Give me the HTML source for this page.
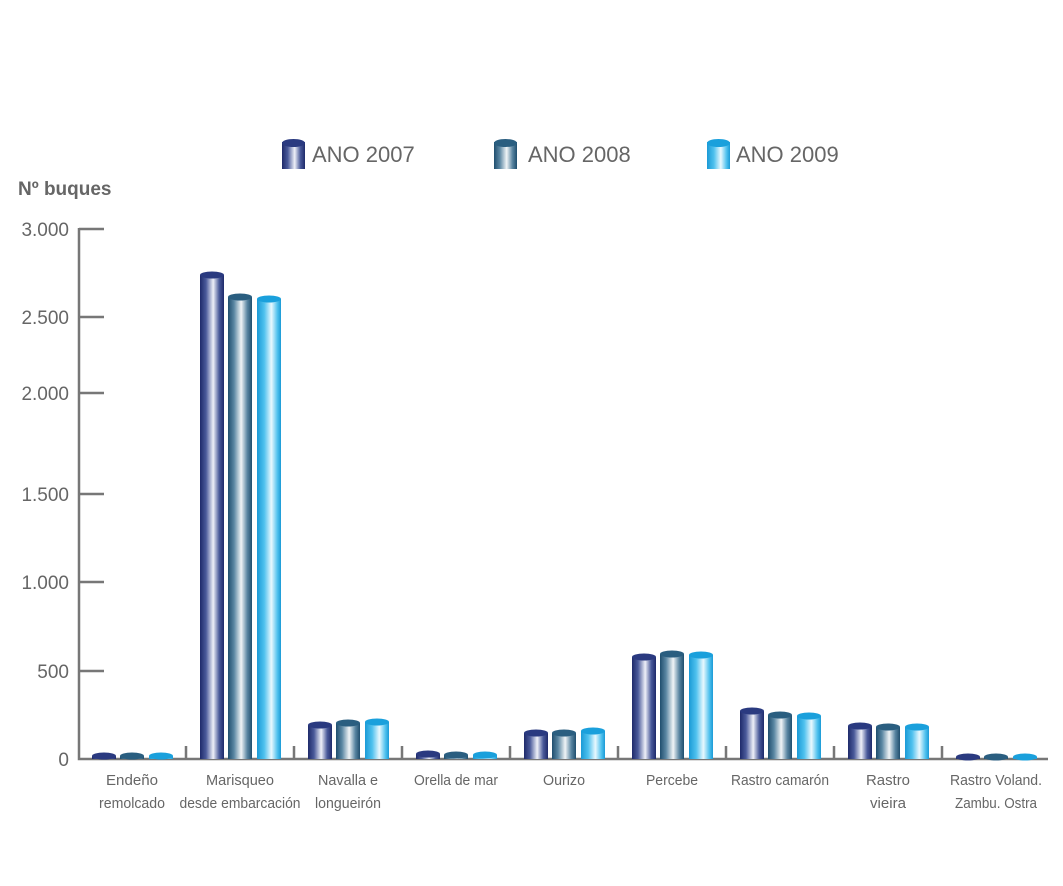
<!DOCTYPE html>
<html><head><meta charset="utf-8"><style>
html,body{margin:0;padding:0;background:#fff;}
svg{display:block;font-family:"Liberation Sans",sans-serif;}
</style></head><body>
<svg width="1063" height="886" viewBox="0 0 1063 886" xmlns="http://www.w3.org/2000/svg">
<defs>
<linearGradient id="g0" x1="0" x2="1" y1="0" y2="0">
<stop offset="0" stop-color="#1e2a6a"/><stop offset="0.25" stop-color="#4a5a9a"/><stop offset="0.55" stop-color="#eef0f8"/><stop offset="0.8" stop-color="#4a5a9a"/><stop offset="1" stop-color="#1e2a6a"/></linearGradient>
<linearGradient id="g1" x1="0" x2="1" y1="0" y2="0">
<stop offset="0" stop-color="#1f4e6e"/><stop offset="0.25" stop-color="#5a86a2"/><stop offset="0.55" stop-color="#f0f4f6"/><stop offset="0.8" stop-color="#5a86a2"/><stop offset="1" stop-color="#1f4e6e"/></linearGradient>
<linearGradient id="g2" x1="0" x2="1" y1="0" y2="0">
<stop offset="0" stop-color="#1a9ad6"/><stop offset="0.3" stop-color="#4fc1ee"/><stop offset="0.6" stop-color="#e8f8fe"/><stop offset="0.85" stop-color="#4fc1ee"/><stop offset="1" stop-color="#1a9ad6"/></linearGradient>
</defs>
<g fill="#666" font-size="22">
<rect x="282" y="142" width="23" height="27" fill="url(#g0)"/><ellipse cx="293.5" cy="143" rx="11.5" ry="4" fill="#2a3a80"/>
<text x="312" y="162">ANO 2007</text>
<rect x="494" y="142" width="23" height="27" fill="url(#g1)"/><ellipse cx="505.5" cy="143" rx="11.5" ry="4" fill="#2a5e80"/>
<text x="528" y="162">ANO 2008</text>
<rect x="707" y="142" width="23" height="27" fill="url(#g2)"/><ellipse cx="718.5" cy="143" rx="11.5" ry="4" fill="#1aa0dc"/>
<text x="736" y="162">ANO 2009</text>
</g>
<text x="18" y="195" font-size="19" font-weight="bold" fill="#666">Nº buques</text>
<g stroke="#777" stroke-width="2.5" fill="none">
<path d="M79 228V759H1048"/>
<path d="M79 229H104M79 317H104M79 393H104M79 494H104M79 582H104M79 671H104"/>
<path d="M186 759V746M294 759V746M402 759V746M510 759V746M618 759V746M726 759V746M834 759V746M942 759V746"/>
</g>
<g fill="#666" font-size="19" text-anchor="end">
<text x="69" y="236">3.000</text><text x="69" y="324">2.500</text><text x="69" y="400">2.000</text>
<text x="69" y="501">1.500</text><text x="69" y="589">1.000</text><text x="69" y="678">500</text><text x="69" y="766">0</text>
</g>
<g>
<!-- Endeño c=132 -->
<rect x="92" y="756" width="24" height="3" fill="url(#g0)"/><ellipse cx="104" cy="756" rx="12" ry="3.5" fill="#2a3a80"/>
<rect x="120" y="756" width="24" height="3" fill="url(#g1)"/><ellipse cx="132" cy="756" rx="12" ry="3.5" fill="#2a5e80"/>
<rect x="149" y="756" width="24" height="3" fill="url(#g2)"/><ellipse cx="161" cy="756" rx="12" ry="3.5" fill="#1aa0dc"/>
<!-- Marisqueo c=240 -->
<rect x="200" y="275" width="24" height="484" fill="url(#g0)"/><ellipse cx="212" cy="275" rx="12" ry="3.5" fill="#2a3a80"/>
<rect x="228" y="297" width="24" height="462" fill="url(#g1)"/><ellipse cx="240" cy="297" rx="12" ry="3.5" fill="#2a5e80"/>
<rect x="257" y="299" width="24" height="460" fill="url(#g2)"/><ellipse cx="269" cy="299" rx="12" ry="3.5" fill="#1aa0dc"/>
<!-- Navalla c=348 -->
<rect x="308" y="725" width="24" height="34" fill="url(#g0)"/><ellipse cx="320" cy="725" rx="12" ry="3.5" fill="#2a3a80"/>
<rect x="336" y="723" width="24" height="36" fill="url(#g1)"/><ellipse cx="348" cy="723" rx="12" ry="3.5" fill="#2a5e80"/>
<rect x="365" y="722" width="24" height="37" fill="url(#g2)"/><ellipse cx="377" cy="722" rx="12" ry="3.5" fill="#1aa0dc"/>
<!-- Orella c=456 -->
<rect x="416" y="754" width="24" height="5" fill="url(#g0)"/><ellipse cx="428" cy="754" rx="12" ry="3.5" fill="#2a3a80"/>
<rect x="444" y="755" width="24" height="4" fill="url(#g1)"/><ellipse cx="456" cy="755" rx="12" ry="3.5" fill="#2a5e80"/>
<rect x="473" y="755" width="24" height="4" fill="url(#g2)"/><ellipse cx="485" cy="755" rx="12" ry="3.5" fill="#1aa0dc"/>
<!-- Ourizo c=564 -->
<rect x="524" y="733" width="24" height="26" fill="url(#g0)"/><ellipse cx="536" cy="733" rx="12" ry="3.5" fill="#2a3a80"/>
<rect x="552" y="733" width="24" height="26" fill="url(#g1)"/><ellipse cx="564" cy="733" rx="12" ry="3.5" fill="#2a5e80"/>
<rect x="581" y="731" width="24" height="28" fill="url(#g2)"/><ellipse cx="593" cy="731" rx="12" ry="3.5" fill="#1aa0dc"/>
<!-- Percebe c=672 -->
<rect x="632" y="657" width="24" height="102" fill="url(#g0)"/><ellipse cx="644" cy="657" rx="12" ry="3.5" fill="#2a3a80"/>
<rect x="660" y="654" width="24" height="105" fill="url(#g1)"/><ellipse cx="672" cy="654" rx="12" ry="3.5" fill="#2a5e80"/>
<rect x="689" y="655" width="24" height="104" fill="url(#g2)"/><ellipse cx="701" cy="655" rx="12" ry="3.5" fill="#1aa0dc"/>
<!-- Rastro camarón c=780 -->
<rect x="740" y="711" width="24" height="48" fill="url(#g0)"/><ellipse cx="752" cy="711" rx="12" ry="3.5" fill="#2a3a80"/>
<rect x="768" y="715" width="24" height="44" fill="url(#g1)"/><ellipse cx="780" cy="715" rx="12" ry="3.5" fill="#2a5e80"/>
<rect x="797" y="716" width="24" height="43" fill="url(#g2)"/><ellipse cx="809" cy="716" rx="12" ry="3.5" fill="#1aa0dc"/>
<!-- Rastro vieira c=888 -->
<rect x="848" y="726" width="24" height="33" fill="url(#g0)"/><ellipse cx="860" cy="726" rx="12" ry="3.5" fill="#2a3a80"/>
<rect x="876" y="727" width="24" height="32" fill="url(#g1)"/><ellipse cx="888" cy="727" rx="12" ry="3.5" fill="#2a5e80"/>
<rect x="905" y="727" width="24" height="32" fill="url(#g2)"/><ellipse cx="917" cy="727" rx="12" ry="3.5" fill="#1aa0dc"/>
<!-- Rastro Voland c=996 -->
<rect x="956" y="757" width="24" height="2" fill="url(#g0)"/><ellipse cx="968" cy="757" rx="12" ry="3.5" fill="#2a3a80"/>
<rect x="984" y="757" width="24" height="2" fill="url(#g1)"/><ellipse cx="996" cy="757" rx="12" ry="3.5" fill="#2a5e80"/>
<rect x="1013" y="757" width="24" height="2" fill="url(#g2)"/><ellipse cx="1025" cy="757" rx="12" ry="3.5" fill="#1aa0dc"/>
</g>
<g fill="#666" font-size="15" text-anchor="middle">
<text x="132" y="785" textLength="52" lengthAdjust="spacingAndGlyphs">Endeño</text><text x="132" y="808" textLength="66" lengthAdjust="spacingAndGlyphs">remolcado</text>
<text x="240" y="785" textLength="68" lengthAdjust="spacingAndGlyphs">Marisqueo</text><text x="240" y="808" textLength="121" lengthAdjust="spacingAndGlyphs">desde embarcación</text>
<text x="348" y="785" textLength="60" lengthAdjust="spacingAndGlyphs">Navalla e</text><text x="348" y="808" textLength="66" lengthAdjust="spacingAndGlyphs">longueirón</text>
<text x="456" y="785" textLength="84" lengthAdjust="spacingAndGlyphs">Orella de mar</text>
<text x="564" y="785" textLength="42" lengthAdjust="spacingAndGlyphs">Ourizo</text>
<text x="672" y="785" textLength="52" lengthAdjust="spacingAndGlyphs">Percebe</text>
<text x="780" y="785" textLength="98" lengthAdjust="spacingAndGlyphs">Rastro camarón</text>
<text x="888" y="785" textLength="44" lengthAdjust="spacingAndGlyphs">Rastro</text><text x="888" y="808" textLength="36" lengthAdjust="spacingAndGlyphs">vieira</text>
<text x="996" y="785" textLength="92" lengthAdjust="spacingAndGlyphs">Rastro Voland.</text><text x="996" y="808" textLength="82" lengthAdjust="spacingAndGlyphs">Zambu. Ostra</text>
</g>
</svg>
</body></html>
